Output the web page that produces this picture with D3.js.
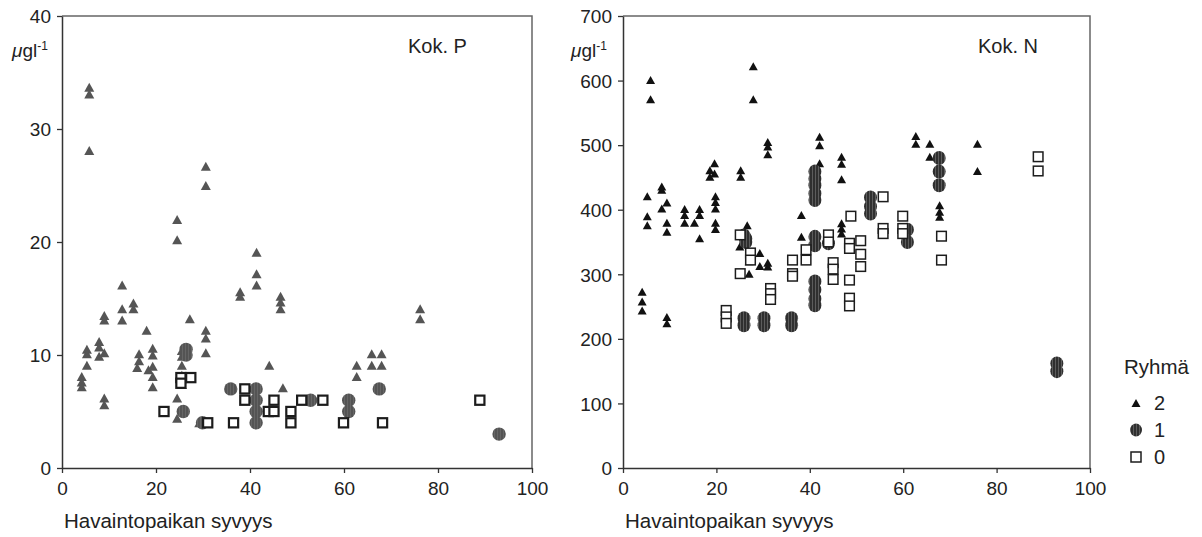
<!DOCTYPE html>
<html>
<head>
<meta charset="utf-8">
<script src="https://cdn.jsdelivr.net/npm/d3@7"></script>
<style>
  html, body { margin: 0; padding: 0; background: #fff; }
  svg { display: block; font-family: "Liberation Sans", Arial, sans-serif; }
</style>
</head>
<body>
<svg id="chart" width="1202" height="537"></svg>
<script>
// Depth of the site (m) and measured concentration, per group (Ryhmä)
// Kok. P (µg/l)
const pGroup2 = [
  [4.2,8.1],[4.2,7.6],[4.2,7.2],
  [5.3,10.5],[5.3,10.1],[5.3,9.1],
  [5.8,33.7],[5.8,33.1],[5.8,28.1],
  [7.9,11.2],[7.9,10.7],[7.9,9.9],
  [9.0,13.5],[9.0,13.1],[9.0,10.2],[9.0,6.2],[9.0,5.6],
  [12.8,16.2],[12.8,14.1],[12.8,13.1],
  [15.2,14.6],[15.2,14.1],
  [16.4,10.1],[16.4,9.5],[16.0,8.9],
  [18.0,12.2],[18.4,8.7],
  [19.3,10.6],[19.3,10.0],[19.3,9.0],[19.3,8.1],[19.3,7.2],
  [24.5,22.0],[24.5,20.2],[24.5,6.2],[24.5,4.4],
  [25.5,10.4],[25.5,9.9],[25.5,9.1],[25.5,8.2],[25.5,7.4],
  [27.2,13.2],[29.2,4.0],
  [30.6,26.7],[30.6,25.0],[30.6,12.2],[30.6,11.5],[30.6,10.2],
  [37.9,15.6],[37.9,15.2],
  [41.4,19.1],[41.4,17.2],[41.4,16.2],
  [44.1,9.1],
  [46.5,15.2],[46.5,14.7],[46.5,14.1],
  [47.0,7.1],
  [62.7,9.1],[62.7,8.1],
  [65.9,10.1],[65.9,9.1],
  [68.0,10.1],[68.0,9.1],
  [76.2,14.1],[76.2,13.2]
];
const pGroup1 = [
  [25.8,5.0],[26.4,10.5],[26.4,10.0],[29.9,4.0],[35.9,7.0],
  [41.3,7.0],[41.3,6.0],[41.3,5.0],[41.3,4.0],
  [52.9,6.0],[61.0,6.0],[61.0,5.0],[67.5,7.0],[93.0,3.0]
];
const pGroup0 = [
  [21.7,5.0],[25.3,8.0],[25.3,7.5],[27.4,8.0],[31.0,4.0],[36.5,4.0],
  [38.9,7.0],[38.9,6.0],[43.9,5.0],[45.1,6.0],[45.1,5.0],
  [48.7,5.0],[48.7,4.0],[51.0,6.0],[55.5,6.0],[59.9,4.0],[68.2,4.0],[88.9,6.0]
];

// Kok. N (µg/l)
const nGroup2 = [
  [4.1,273],[4.1,258],[4.1,244],
  [5.2,421],[5.2,390],[5.2,376],
  [5.9,601],[5.9,571],
  [8.3,436],[8.3,431],[8.3,402],
  [9.4,411],[9.4,380],[9.4,366],[9.4,234],[9.4,224],
  [13.2,401],[13.2,392],[13.2,380],
  [15.3,380],
  [16.4,401],[16.4,392],[16.4,356],
  [18.6,461],[18.6,451],
  [19.6,472],[19.6,456],
  [19.8,421],[19.8,412],[19.8,402],[19.8,380],[19.8,370],
  [25.2,461],[25.2,451],
  [25.0,343],[26.6,376],[26.6,363],[27.0,320],[27.0,301],
  [27.9,622],[27.9,571],
  [29.3,333],[29.3,313],
  [31.0,505],[31.0,498],[31.0,486],[31.0,318],[31.0,312],
  [38.2,392],[38.2,358],
  [42.1,513],[42.1,500],[42.1,472],
  [46.8,482],[46.8,471],[46.8,447],[46.8,379],[46.8,371],[46.8,363],
  [62.7,514],[62.7,502],
  [65.7,502],[65.7,482],
  [67.8,407],[67.8,397],[67.8,389],
  [75.9,502],[75.9,460]
];
const nGroup1 = [
  [25.9,360],[26.3,355],[26.3,350],
  [25.9,232],[25.9,221],[30.2,232],[30.2,221],[36.1,232],[36.1,221],
  [41.1,459],[41.1,448],[41.1,438],[41.1,425],[41.1,415],
  [41.1,358],[41.1,345],
  [41.1,289],[41.1,276],[41.1,262],[41.1,252],
  [44.0,348],
  [53.0,419],[53.0,405],[53.0,394],
  [60.9,369],[60.9,350],
  [67.7,480],[67.7,459],[67.7,438],
  [92.9,162],[92.9,150]
];
const nGroup0 = [
  [22.1,244],[22.1,234],[22.1,224],
  [25.1,361],[25.1,301],
  [27.3,333],[27.3,322],
  [31.6,278],[31.6,270],[31.6,261],
  [36.3,322],[36.3,301],[36.3,297],
  [39.2,338],[39.2,322],
  [44.0,361],[44.0,350],
  [45.0,318],[45.0,308],[45.0,292],
  [48.5,348],[48.5,340],[48.5,291],[48.5,263],[48.5,251],
  [48.8,390],
  [50.9,352],[50.9,331],[50.9,312],
  [55.7,420],[55.7,371],[55.7,363],
  [59.9,390],[59.9,371],[59.9,363],
  [68.2,359],[68.2,322],
  [88.9,482],[88.9,460]
];

const xTicks = [0, 20, 40, 60, 80, 100];
const pTicks = [0, 10, 20, 30, 40];
const nTicks = [0, 100, 200, 300, 400, 500, 600, 700];
const xTitle = "Havaintopaikan syvyys";
const legendTitle = "Ryhmä";
const legendLabels = ["2", "1", "0"];

const svg = d3.select("#chart");
const defs = svg.append("defs");

// vertical-stripe texture used for the group 1 discs
function stripePattern(id, base, stripe) {
  const p = defs.append("pattern")
    .attr("id", id).attr("patternUnits", "userSpaceOnUse")
    .attr("width", 3).attr("height", 6);
  p.append("rect").attr("width", 3).attr("height", 6).attr("fill", base);
  p.append("rect").attr("x", 2).attr("width", 1).attr("height", 6).attr("fill", stripe);
}
stripePattern("hatchDark", "#2f2f2f", "#5c5c5c");
stripePattern("hatchGrey", "#545454", "#666");

function triPath(cx, cy, w, h) {
  return `M${cx - w / 2},${cy + h / 2}L${cx + w / 2},${cy + h / 2}L${cx},${cy - h / 2}Z`;
}

function panel(cfg) {
  const x = d3.scaleLinear().domain([0, 100]).range([cfg.left, cfg.right]);
  const y = d3.scaleLinear().domain([0, cfg.ymax]).range([468, 16]);
  const g = svg.append("g");

  // frame: top and right edges
  g.append("path")
    .attr("d", `M${cfg.left},${y(cfg.ymax)}H${cfg.right}V${y(0)}`)
    .attr("fill", "none").attr("stroke", "#666").attr("stroke-width", 1.5);

  const xa = g.append("g").attr("transform", `translate(0,${y(0)})`)
    .call(d3.axisBottom(x).tickValues(xTicks).tickSize(5).tickPadding(9).tickSizeOuter(0));
  const ya = g.append("g").attr("transform", `translate(${cfg.left},0)`)
    .call(d3.axisLeft(y).tickValues(cfg.ticks).tickSize(5).tickPadding(6).tickSizeOuter(0));
  [xa, ya].forEach(a => {
    a.select(".domain").attr("stroke", "#333").attr("stroke-width", 1.5);
    a.selectAll(".tick line").attr("stroke", "#333").attr("stroke-width", 1.3);
    a.selectAll("text").attr("font-size", 19).attr("fill", "#222")
      .attr("font-family", "Liberation Sans, Arial, sans-serif");
  });
  ya.selectAll("text").attr("dy", "0.36em");

  // unit label
  const u = g.append("text").attr("x", cfg.unitX).attr("y", 57)
    .attr("font-size", 19).attr("fill", "#222");
  u.append("tspan").attr("font-style", "italic").text("μ");
  u.append("tspan").text("gl");
  u.append("tspan").attr("font-size", 12).attr("dy", -7).attr("fill", "#222").text("-1");

  g.append("text").attr("x", cfg.titleX).attr("y", 53)
    .attr("font-size", 20).attr("fill", "#222").text(cfg.title);

  g.append("text").attr("x", cfg.left + 2).attr("y", 528)
    .attr("font-size", 20.5).attr("fill", "#222").text(xTitle);

  const m = cfg.marks;
  g.append("g").selectAll("path").data(cfg.g2).join("path")
    .attr("d", d => triPath(x(d[0]), y(d[1]), m.triW, m.triH))
    .attr("fill", m.triFill);
  g.append("g").selectAll("ellipse").data(cfg.g1).join("ellipse")
    .attr("cx", d => x(d[0])).attr("cy", d => y(d[1]))
    .attr("rx", m.rx).attr("ry", m.ry)
    .attr("fill", m.circFill);
  g.append("g").selectAll("rect").data(cfg.g0).join("rect")
    .attr("x", d => x(d[0]) - m.sq / 2).attr("y", d => y(d[1]) - m.sq / 2)
    .attr("width", m.sq).attr("height", m.sq)
    .attr("fill", "#fff").attr("stroke", "#1c1c1c").attr("stroke-width", m.sqStroke);
}

panel({
  left: 62, right: 532, ymax: 40, ticks: pTicks, unitX: 12,
  title: "Kok. P", titleX: 408,
  g2: pGroup2, g1: pGroup1, g0: pGroup0,
  marks: { triW: 10, triH: 9, triFill: "#555", rx: 6.7, ry: 6.7, circFill: "url(#hatchGrey)", sq: 9.2, sqStroke: 2.2 }
});

panel({
  left: 623, right: 1090, ymax: 700, ticks: nTicks, unitX: 571,
  title: "Kok. N", titleX: 978,
  g2: nGroup2, g1: nGroup1, g0: nGroup0,
  marks: { triW: 9, triH: 8, triFill: "#111", rx: 6.5, ry: 7, circFill: "url(#hatchDark)", sq: 9.6, sqStroke: 1.5 }
});

// legend
const lg = svg.append("g");
lg.append("text").attr("x", 1124).attr("y", 374).attr("font-size", 20.5).attr("fill", "#222").text(legendTitle);
const ly = [403, 430, 457];
lg.append("path").attr("d", triPath(1136, ly[0], 9, 8)).attr("fill", "#111");
lg.append("ellipse").attr("cx", 1136).attr("cy", ly[1]).attr("rx", 6).attr("ry", 6.5).attr("fill", "url(#hatchDark)");
lg.append("rect").attr("x", 1131).attr("y", ly[2] - 5).attr("width", 10).attr("height", 10)
  .attr("fill", "#fff").attr("stroke", "#1c1c1c").attr("stroke-width", 1.5);
lg.selectAll("text.lab").data(legendLabels).join("text").attr("class", "lab")
  .attr("x", 1154).attr("y", (d, i) => ly[i] + 7)
  .attr("font-size", 20).attr("fill", "#222").text(d => d);
</script>
</body>
</html>
